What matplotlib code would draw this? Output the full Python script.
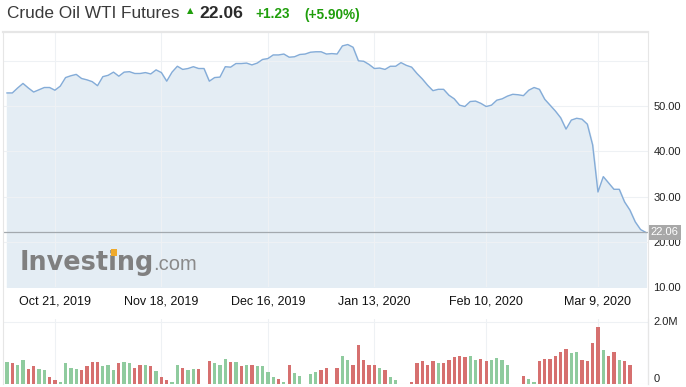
import matplotlib
matplotlib.use('Agg')
import matplotlib.pyplot as plt
import matplotlib.transforms as mtransforms
from matplotlib.patches import Rectangle

plt.rcParams['font.family'] = ['Liberation Sans', 'DejaVu Sans']

# WTI daily close, one value per session (Oct 2019 - Mar 19, 2020)
price = [
    52.9, 52.9, 54.0, 55.0, 54.0, 53.1, 53.6, 54.1, 54.1, 53.5,
    54.4, 56.3, 56.7, 57.0, 56.1, 55.8, 55.4, 54.5, 56.5, 56.8,
    57.5, 56.6, 57.5, 57.6, 57.2, 57.2, 57.4, 57.1, 58.0, 57.4,
    55.5, 57.5, 58.8, 58.1, 58.3, 58.7, 58.3, 58.3, 55.5, 56.3,
    56.4, 58.7, 58.6, 59.4, 59.4, 59.5, 59.1, 59.5, 60.3, 60.5,
    61.3, 61.3, 61.5, 60.8, 60.9, 61.4, 61.5, 61.9, 62.0, 62.0,
    61.5, 61.6, 61.5, 63.3, 63.6, 63.0, 60.0, 59.9, 59.2, 58.3,
    58.4, 58.1, 58.8, 58.8, 59.6, 59.0, 58.6, 57.2, 56.0, 54.6,
    53.4, 53.7, 53.7, 52.4, 51.6, 50.2, 49.9, 51.0, 51.1, 50.6,
    49.9, 50.2, 51.3, 51.6, 52.2, 52.6, 52.5, 52.3, 53.5, 54.1,
    53.7, 51.5, 50.2, 48.9, 47.4, 44.9, 46.9, 47.3, 47.1, 46.0,
    41.4, 31.0, 34.4, 33.0, 31.6, 31.6, 28.8, 27.0, 24.4, 22.7,
    22.06,
]

# volume in millions (0 = no bar shown)
volume = [
    0.71, 0.67, 0.63, 0.77, 0.49, 0.57, 0.49, 0.45, 0.22, 0.14,
    0.05, 0.67, 0.53, 0.49, 0.45, 0.57, 0.71, 0.71, 0.57, 0.63,
    0.45, 0.67, 0.71, 0.67, 0.53, 0.63, 0.60, 0.57, 0.42, 0.22,
    0.14, 0.08, 0.63, 0.53, 0.45, 0.49, 0.49, 0.00, 0.74, 0.67,
    0.60, 0.82, 0.71, 0.70, 0.57, 0.60, 0.63, 0.57, 0.57, 0.38,
    0.22, 0.17, 0.05, 0.60, 0.34, 0.25, 0.00, 0.31, 0.38, 0.45,
    0.53, 0.00, 0.53, 0.92, 0.77, 0.63, 1.25, 0.77, 0.63, 0.63,
    0.53, 0.45, 0.22, 0.14, 0.00, 0.00, 0.05, 0.67, 0.74, 0.63,
    0.74, 0.67, 0.67, 0.77, 0.88, 0.92, 0.88, 0.92, 0.77, 0.81,
    0.74, 0.77, 0.85, 0.77, 0.63, 0.00, 0.00, 0.25, 0.15, 0.08,
    0.74, 0.82, 0.82, 0.92, 1.05, 1.14, 1.00, 1.05, 0.77, 0.74,
    1.32, 1.85, 1.09, 0.92, 1.05, 0.77, 0.74, 0.60, 0.00, 0.00,
    0.00,
]

# G = up session, R = down session
direction = list(
    "GRGGRRGGRR" "GGGGRRRRGG" "GRGGRRGRGR" "RGGRGGRRRG"
    "GGRGRGRGGG" "GRGRGGRGGR" "RRRGGRRRRR" "GRGGRRRRRR"
    "RGRRRRRGGR" "RGGGGRRRGG" "RRRRRRGGRR" "RRGRRGRRRR"
    "R"
)

tick_pos = [9, 29, 49, 69, 90, 111]
tick_labels = ['Oct 21, 2019', 'Nov 18, 2019', 'Dec 16, 2019',
               'Jan 13, 2020', 'Feb 10, 2020', 'Mar 9, 2020']
price_ticks = [10, 20, 30, 40, 50, 60]
price_labels = ['10.00', '20.00', '30.00', '40.00', '50.00', '']
vol_ticks = [0, 2.0]
vol_labels = ['0', '2.0M']

last_price = 22.06
change = '+1.23'
change_pct = '(+5.90%)'

W, H = 686, 387
fig = plt.figure(figsize=(W / 100, H / 100), dpi=100)
fig.patch.set_facecolor('white')

green_txt = '#1f9e0b'
grid_c = '#eef1f4'
frame_c = '#e6e6e6'
x = list(range(len(price)))
x0, x1 = -0.75, 120.4

# price panel
ax = fig.add_axes([3 / W, 1 - 287 / H, 645 / W, (287 - 33) / H])
ax.fill_between(x, price, 0, color='#e4edf4', zorder=1)
ax.plot(x, price, color='#84acd8', lw=1.0, zorder=3)
ax.axhline(last_price, color='#a3a9ae', lw=0.9, zorder=4)
ax.set_xlim(x0, x1)
ax.set_ylim(10, 66.15)
ax.set_yticks(price_ticks)
ax.set_yticklabels(price_labels)
ax.yaxis.tick_right()
ax.set_xticks(tick_pos)
ax.set_xticklabels(tick_labels)
ax.tick_params(axis='x', length=0, pad=6, labelsize=9, labelcolor='#111111')
ax.tick_params(axis='y', length=0, pad=4, labelsize=8, labelcolor='#222222')
ax.grid(True, color=grid_c, lw=0.8, zorder=2)
ax.set_axisbelow(False)
for s in ax.spines.values():
    s.set_visible(False)

trans = mtransforms.blended_transform_factory(ax.transAxes, ax.transData)
ax.text(1.004, last_price, f'{last_price:.2f}', transform=trans, ha='left',
        va='center', fontsize=8, color='white', zorder=10, clip_on=False,
        bbox=dict(boxstyle='square,pad=0.22', fc='#a8a8a8', ec='none'))

# volume panel
axv = fig.add_axes([3 / W, 1 - 384 / H, 645 / W, (384 - 319) / H])
bar_colors = ['#8fcb9e' if d == 'G' else '#d6706f' for d in direction]
axv.bar(x, volume, width=0.62, color=bar_colors, zorder=3)
axv.set_xlim(x0, x1)
axv.set_ylim(0, 2.1)
axv.set_xticks(tick_pos)
axv.set_xticklabels([])
axv.set_yticks(vol_ticks)
axv.set_yticklabels([])
axv.tick_params(axis='both', length=0)
axv.grid(True, color=grid_c, lw=0.8, zorder=1)
for s in axv.spines.values():
    s.set_visible(False)
axv.spines['right'].set_visible(True)
axv.spines['right'].set_color('#c9d8e8')
vtrans = mtransforms.blended_transform_factory(axv.transAxes, axv.transData)
axv.text(1.008, vol_ticks[0], vol_labels[0], transform=vtrans, ha='left',
         va='bottom', fontsize=8, color='#222222', clip_on=False)
axv.text(1.008, vol_ticks[1], vol_labels[1], transform=vtrans, ha='left',
         va='center', fontsize=8, color='#222222', clip_on=False)

# outer frame
fr = fig.add_axes([3 / W, 1 - 384 / H, 645 / W, (384 - 32) / H], zorder=5)
fr.patch.set_visible(False)
fr.set_xticks([])
fr.set_yticks([])
fr.spines['bottom'].set_visible(False)
for side in ['left', 'top', 'right']:
    fr.spines[side].set_color(frame_c)
fr.spines['top'].set_linewidth(1.6)

# header
fig.text(7 / W, 1 - 18.5 / H, 'Crude Oil WTI Futures', fontsize=12.4,
         color='#3a3a3a', va='baseline')
fig.text(190 / W, 1 - 13.5 / H, '▲', fontsize=6, color=green_txt,
         ha='center', va='baseline', family='DejaVu Sans')
fig.text(199 / W, 1 - 18.5 / H, f'{last_price:.2f}', fontsize=12.6,
         color='#2b2b2b', fontweight='bold', va='baseline')
fig.text(255 / W, 1 - 18.5 / H, change, fontsize=9.8, color=green_txt,
         fontweight='bold', va='baseline')
fig.text(304 / W, 1 - 18.5 / H, change_pct, fontsize=9.8, color=green_txt,
         fontweight='bold', va='baseline')

# watermark, with the orange dot on the i
logo_kw = dict(fontsize=18.4, fontweight='bold', family='DejaVu Sans',
               va='baseline')
fig.text(20 / W, 1 - 270 / H, 'Investing', color='#808080', zorder=6, **logo_kw)
fig.text(153 / W, 1 - 270 / H, '.com', fontsize=14.5, color='#8a8a8a',
         va='baseline', zorder=6)
r = fig.canvas.get_renderer()
a = fig.text(20 / W, 1 - 270 / H, 'Invest', alpha=0, **logo_kw).get_window_extent(r)
b = fig.text(20 / W, 1 - 270 / H, 'Investi', alpha=0, **logo_kw).get_window_extent(r)
cx = (a.x1 + b.x1) / 2
fig.patches.append(Rectangle(((cx - 3) / W, 1 - 255.5 / H), 6 / W, 6.5 / H,
                             transform=fig.transFigure, fc='#efaa2c',
                             ec='none', zorder=7))

fig.savefig('out.png', dpi=100, facecolor='white')
